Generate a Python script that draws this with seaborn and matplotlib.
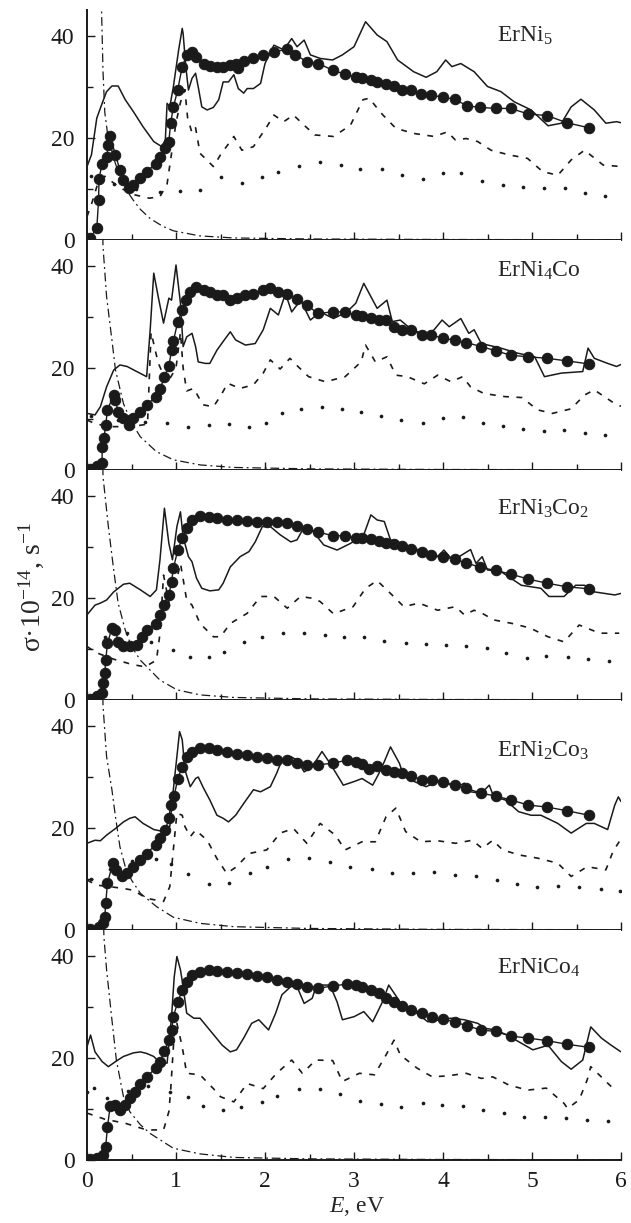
import matplotlib
matplotlib.use("Agg")
import matplotlib.pyplot as plt
import seaborn as sns
import pandas as pd
from matplotlib.ticker import MultipleLocator

# --- data: (E [eV], sigma [1e14 s^-1]) ---
labels = ["ErNi$_5$", "ErNi$_4$Co", "ErNi$_3$Co$_2$", "ErNi$_2$Co$_3$", "ErNiCo$_4$"]
label_y = [38.8, 37.9, 36.4, 33.9, 36.6]

exp_1 = [(0.03,0.3),(0.11,2.3),(0.13,7.8),(0.135,12),(0.17,15),(0.22,16.3),(0.24,18.6),(0.26,20.3),(0.32,16.7),(0.37,13.7),(0.41,11.8),(0.47,10.1),(0.52,10.8),(0.60,12.1),(0.67,13.4),(0.77,15),(0.82,16.3),(0.88,18),(0.92,19.3),(0.94,23),(0.97,26),(1.02,29.5),(1.07,34),(1.12,36.3),(1.18,36.8),(1.23,35.9),(1.31,34.6),(1.38,34.1),(1.46,33.9),(1.53,34),(1.61,34.3),(1.67,34.6),(1.70,33.7),(1.76,35.1),(1.87,35.6),(1.98,36.3),(2.10,36.9),(2.25,37.4),(2.34,36.3),(2.47,35),(2.60,34.6),(2.76,33.3),(2.90,32.5),(3.02,32),(3.09,31.7),(3.19,31.4),(3.26,31),(3.36,30.6),(3.45,30.2),(3.54,29.5),(3.64,29.4),(3.75,28.6),(3.87,28.4),(4.00,28),(4.13,27.6),(4.27,26.3),(4.42,26),(4.59,25.8),(4.76,25.8),(4.96,24.7),(5.17,24.4),(5.39,23),(5.64,22)]
calc_1 = [(0,14.4),(0.05,16.7),(0.11,23.9),(0.17,26.8),(0.22,29.1),(0.28,30.2),(0.35,30.2),(0.43,27.5),(0.52,25.2),(0.63,22.2),(0.75,19.3),(0.84,18.3),(0.88,19.6),(0.90,26.8),(0.93,26.1),(0.97,30),(1.03,37.3),(1.07,41.5),(1.08,40.5),(1.11,34),(1.14,29.4),(1.18,31.7),(1.22,32.7),(1.25,30),(1.29,26.1),(1.35,25.5),(1.42,26),(1.48,27.5),(1.53,31),(1.59,31),(1.65,32.4),(1.70,29.7),(1.76,28.8),(1.80,29.7),(1.87,29.7),(1.95,30.7),(2.00,34.6),(2.10,38.2),(2.21,37.3),(2.30,39.5),(2.36,37.9),(2.44,39.2),(2.51,36.3),(2.62,35.6),(2.76,35.3),(2.87,36.3),(3.00,37.9),(3.13,42.8),(3.26,40.2),(3.37,38.9),(3.49,35.3),(3.67,33),(3.81,31.9),(3.93,33),(4.03,35.3),(4.10,34),(4.20,34.6),(4.35,33),(4.50,30.1),(4.65,29.1),(4.80,27.1),(4.99,25.5),(5.18,22.4),(5.33,22.9),(5.44,26.1),(5.55,27.6),(5.70,25.5),(5.83,22.9),(5.95,23.2),(6.0,23)]
inter_1 = [(0,4.6),(0.05,7),(0.12,11),(0.2,12.5),(0.35,10.5),(0.5,9),(0.7,8.2),(0.82,8.5),(0.9,11),(0.95,17),(1.0,23),(1.05,27),(1.1,29.5),(1.13,24),(1.18,21),(1.22,22),(1.27,17),(1.42,14.4),(1.5,16.7),(1.65,20.3),(1.74,17.6),(1.87,18.3),(2.02,22.2),(2.1,24.5),(2.21,23.2),(2.32,24.5),(2.44,22.5),(2.56,20.6),(2.77,20.3),(2.96,22.5),(3.10,27.5),(3.17,27.8),(3.32,24.6),(3.47,21.9),(3.67,20.9),(3.90,20.3),(4.05,21.2),(4.14,19.6),(4.26,19.9),(4.39,19.3),(4.54,17.6),(4.74,16.7),(4.95,16),(5.12,13.4),(5.29,12.7),(5.44,15.7),(5.59,17.6),(5.80,14.7),(6.0,14.4)]
dots_1 = [(0.05,12.5),(0.3,11),(0.55,10),(0.82,9.5),(1.05,9.7),(1.27,9.8),(1.5,12.3),(1.74,11.1),(1.97,12.3),(2.15,13.4),(2.38,14.6),(2.62,15.2),(2.85,14.7),(3.07,13.9),(3.31,13.9),(3.54,12.7),(3.77,11.9),(4.0,13.1),(4.2,13.1),(4.44,11.6),(4.67,10.8),(4.90,10.3),(5.13,10.1),(5.37,10.1),(5.59,9.2),(5.82,8.6)]
drude_1 = [(0.14,60),(0.165,44),(0.18,33),(0.2,25),(0.23,21),(0.26,19),(0.3,16),(0.37,12.4),(0.45,9.6),(0.52,7.8),(0.6,6),(0.71,4.2),(0.85,2.7),(0.97,1.8),(1.27,0.8),(1.65,0.4),(2.5,0.2),(4,0.1),(6,0.05)]

exp_2 = [(0.03,0.1),(0.11,0.7),(0.17,1.3),(0.17,4.6),(0.19,6.2),(0.21,8.8),(0.23,11.8),(0.30,14.7),(0.32,13.7),(0.35,11.4),(0.41,10.1),(0.47,8.8),(0.52,10.1),(0.60,11.4),(0.67,12.7),(0.77,14.4),(0.82,15.8),(0.87,18.3),(0.92,20.4),(0.95,23.5),(0.97,25.2),(1.02,29.1),(1.07,31.4),(1.11,33.3),(1.16,35),(1.23,35.9),(1.31,35.3),(1.38,35),(1.46,34.3),(1.53,34.3),(1.61,33.3),(1.68,33.7),(1.78,34.3),(1.87,34.6),(1.98,35.3),(2.06,35.6),(2.15,35),(2.25,34.6),(2.36,33.5),(2.47,32.4),(2.59,30.7),(2.76,31),(2.90,31),(3.02,30.4),(3.09,30.2),(3.19,29.9),(3.28,29.5),(3.36,29.4),(3.45,28.1),(3.54,27.5),(3.64,27.5),(3.76,26.5),(3.87,26.5),(4.0,25.8),(4.13,25.5),(4.26,25),(4.43,24.2),(4.59,23.4),(4.76,22.5),(4.96,22.2),(5.17,21.9),(5.39,21.4),(5.64,20.8)]
calc_2 = [(0,11.1),(0.09,10.8),(0.15,12.4),(0.22,16.3),(0.30,19.6),(0.37,20.6),(0.45,20.3),(0.56,19.3),(0.67,18.3),(0.71,27.5),(0.75,38.6),(0.80,34),(0.86,28.8),(0.92,33.7),(0.95,33.3),(1.0,40.2),(1.05,32.7),(1.08,24.2),(1.12,26.1),(1.18,26.8),(1.22,24.2),(1.25,21.2),(1.33,20.9),(1.38,20.9),(1.46,23.5),(1.53,25.2),(1.61,27.1),(1.67,25.5),(1.78,24.5),(1.89,24.8),(1.98,27.5),(2.06,31.7),(2.15,30.4),(2.23,34.6),(2.30,31),(2.40,33.3),(2.51,29.4),(2.62,31),(2.77,29.7),(2.92,31),(3.02,32.7),(3.11,36.6),(3.26,31.7),(3.37,33.3),(3.43,29.1),(3.52,29.4),(3.65,27.5),(3.81,26.5),(3.90,27.5),(3.99,29.4),(4.07,28.1),(4.20,29.7),(4.29,26.8),(4.35,27.5),(4.43,24.8),(4.65,23.9),(4.84,22.9),(5.03,22.2),(5.14,18.3),(5.33,19),(5.57,19.3),(5.63,23.9),(5.70,21.9),(5.85,20.9),(5.95,20.3),(6.0,20.7)]
inter_2 = [(0,9.8),(0.1,9),(0.3,8.5),(0.5,8.5),(0.68,9),(0.72,27),(0.8,21),(0.9,17),(1.0,20),(1.05,27),(1.08,20),(1.12,15.5),(1.2,16),(1.3,12.8),(1.42,12.4),(1.5,14.5),(1.58,17),(1.72,16),(1.87,16.7),(1.98,19),(2.06,21.6),(2.17,19.8),(2.28,21.9),(2.37,20.3),(2.49,18.3),(2.68,17.3),(2.90,18.3),(3.08,21.2),(3.13,24.5),(3.24,21.2),(3.37,22.2),(3.47,18.6),(3.60,18.3),(3.79,16.9),(3.94,18.6),(4.09,17.3),(4.22,18.3),(4.31,16.3),(4.46,15),(4.69,14.4),(4.89,14.2),(5.06,11.8),(5.23,11.1),(5.44,12),(5.59,14.7),(5.70,15.7),(5.94,12.9),(6.0,12.5)]
dots_2 = [(0.05,10.5),(0.35,9.8),(0.65,9.4),(0.9,9.2),(1.13,8.5),(1.37,8.8),(1.6,9),(1.82,8.4),(2.01,9.3),(2.19,11.1),(2.4,11.9),(2.64,12.4),(2.87,12),(3.08,11.3),(3.30,10.5),(3.53,9.9),(3.77,9.3),(4.0,10.1),(4.23,10.3),(4.45,9.3),(4.67,8.7),(4.90,8),(5.14,7.6),(5.36,7.8),(5.59,7.2),(5.82,6.9)]
drude_2 = [(0.16,60),(0.18,43.8),(0.22,34),(0.28,25.5),(0.32,19.6),(0.41,13),(0.5,9.3),(0.6,6.5),(0.78,3.6),(0.97,2),(1.27,1),(1.65,0.5),(2.5,0.22),(4,0.1),(6,0.05)]

exp_3 = [(0.03,0.1),(0.11,0.7),(0.17,1.3),(0.18,3.3),(0.20,5.2),(0.21,7.8),(0.23,11.1),(0.28,14.1),(0.32,13.7),(0.35,11.4),(0.41,10.5),(0.48,10.5),(0.56,10.8),(0.62,12.4),(0.67,13.7),(0.77,15),(0.82,16.7),(0.86,18.6),(0.92,20.6),(0.95,23.2),(0.97,25.8),(1.02,29.4),(1.07,31.7),(1.12,33.7),(1.18,35.3),(1.27,36.1),(1.37,35.9),(1.46,35.6),(1.57,35.3),(1.68,35.3),(1.80,35.1),(1.91,35),(2.02,35),(2.13,35),(2.25,34.8),(2.36,34.1),(2.47,33.5),(2.59,33),(2.76,32.2),(2.90,32.2),(3.02,31.7),(3.09,31.7),(3.19,31.5),(3.28,31.2),(3.36,30.7),(3.45,30.6),(3.54,30.2),(3.64,29.7),(3.76,29.1),(3.87,28.4),(4.0,28.1),(4.13,27.6),(4.26,26.9),(4.42,26),(4.59,25.4),(4.76,24.7),(4.96,23.7),(5.17,22.9),(5.39,22.2),(5.64,21.8)]
calc_3 = [(0,16.7),(0.09,18.6),(0.15,19),(0.22,19.6),(0.30,21.2),(0.41,22.7),(0.48,22.9),(0.60,21.6),(0.71,20.3),(0.78,21.6),(0.82,27.5),(0.87,37.6),(0.92,30.7),(0.96,27.5),(1.01,34),(1.05,36.9),(1.08,32),(1.14,28.1),(1.18,27.1),(1.23,23.9),(1.29,21.9),(1.38,21.4),(1.48,21.6),(1.53,22.9),(1.61,26.1),(1.72,28.1),(1.82,29.1),(1.89,31),(1.97,34),(2.06,34),(2.17,32.4),(2.29,31),(2.36,31.4),(2.42,33.3),(2.51,33.7),(2.66,30.4),(2.81,29.4),(2.96,30.7),(3.11,32.4),(3.19,36.3),(3.26,35.3),(3.34,35),(3.41,31.4),(3.53,30.7),(3.68,29.7),(3.83,28.8),(3.94,28.1),(4.01,29.4),(4.09,27.8),(4.18,28.1),(4.31,29.5),(4.37,26.8),(4.44,28.1),(4.50,25.5),(4.65,25.2),(4.88,22.5),(5.10,21.9),(5.19,20.3),(5.36,20.3),(5.49,22.5),(5.59,22.5),(5.70,21.2),(5.93,20.6),(6.0,20.9)]
inter_3 = [(0,10.5),(0.1,9.3),(0.3,8),(0.5,7),(0.65,6.5),(0.78,7.8),(0.82,13),(0.86,24.5),(0.93,18.3),(0.99,22.2),(1.05,26.8),(1.12,19.6),(1.18,18.6),(1.27,15),(1.42,12.4),(1.5,12.4),(1.61,15),(1.80,17),(1.95,20.3),(2.1,20.3),(2.25,18),(2.40,20.3),(2.55,19.9),(2.62,19.3),(2.77,16.9),(2.99,18.3),(3.13,21.9),(3.26,23.4),(3.41,20.9),(3.56,18.3),(3.73,19),(3.94,17.6),(4.14,18.3),(4.24,16.7),(4.35,17.6),(4.44,17),(4.57,15.7),(4.78,15),(4.98,14.1),(5.18,12.4),(5.36,11.4),(5.53,14.7),(5.76,13.1),(5.98,13.1)]
dots_3 = [(0.2,12.3),(0.45,13.1),(0.72,11.3),(0.97,9.8),(1.16,8.4),(1.37,8.4),(1.54,9.5),(1.76,11.4),(1.97,12.3),(2.2,13.2),(2.44,13.2),(2.67,12.7),(2.89,12.4),(3.11,12.3),(3.34,11.6),(3.58,11.1),(3.81,10.9),(4.03,10.7),(4.26,10.6),(4.49,10.1),(4.71,9.2),(4.94,8.3),(5.16,8.6),(5.40,8.4),(5.63,8),(5.86,7.7)]
drude_3 = [(0.16,60),(0.18,43.8),(0.24,34),(0.30,25.5),(0.35,19),(0.43,13.7),(0.5,10.5),(0.6,7.8),(0.82,3.9),(1.01,2),(1.27,1),(1.65,0.5),(2.5,0.22),(4,0.1),(6,0.05)]

exp_4 = [(0.03,0.1),(0.13,0.5),(0.18,1.3),(0.20,2.6),(0.21,5.2),(0.23,9.2),(0.29,13.1),(0.33,11.8),(0.39,10.5),(0.45,11.1),(0.52,12.4),(0.60,13.7),(0.67,15),(0.77,16.7),(0.82,18),(0.88,19.6),(0.92,21.9),(0.94,24.5),(0.98,26.3),(1.02,29.7),(1.07,32),(1.12,34),(1.18,35),(1.27,35.6),(1.37,35.6),(1.46,35.3),(1.57,35),(1.68,34.6),(1.80,34.3),(1.91,34),(2.02,33.7),(2.13,33.3),(2.25,33.3),(2.36,32.7),(2.47,32.4),(2.60,32.4),(2.76,32.7),(2.92,33.3),(3.02,33),(3.09,32.5),(3.17,31.5),(3.26,32.2),(3.36,31.4),(3.45,31),(3.54,30.7),(3.64,30.2),(3.76,29.5),(3.88,29.4),(4.0,29.1),(4.13,28.4),(4.26,27.8),(4.43,26.8),(4.59,26.3),(4.76,25.5),(4.96,24.5),(5.17,24.1),(5.39,23.4),(5.64,22.5)]
calc_4 = [(0,17),(0.09,17.6),(0.15,17.5),(0.22,18.6),(0.32,19.9),(0.41,21.2),(0.48,21.9),(0.54,22.2),(0.63,20.9),(0.75,19.7),(0.86,19.3),(0.93,20.3),(0.97,27.5),(1.01,34),(1.04,38.9),(1.07,37.3),(1.10,31.4),(1.16,28.1),(1.22,29.7),(1.25,30),(1.31,27.8),(1.38,25.5),(1.46,22.5),(1.53,21.9),(1.59,21.2),(1.67,22.5),(1.76,24.8),(1.87,27.5),(1.95,27.1),(2.06,28.1),(2.13,30.7),(2.19,33.3),(2.29,34),(2.36,33.3),(2.44,31),(2.53,32),(2.64,35),(2.73,32.7),(2.88,28.4),(3.00,29.1),(3.09,29.7),(3.21,28.4),(3.28,30.7),(3.34,33),(3.41,35.9),(3.51,32.7),(3.56,30.1),(3.68,29.1),(3.81,28.1),(3.90,28.8),(4.01,29.4),(4.13,27.8),(4.24,28.8),(4.31,27.1),(4.43,26.8),(4.52,28.4),(4.57,26.1),(4.70,25.5),(4.85,23.2),(4.99,22.5),(5.10,22.5),(5.29,20.9),(5.44,19),(5.61,20.9),(5.70,20.9),(5.85,19.7),(5.93,24.5),(5.97,26.1),(6.0,25.2)]
inter_4 = [(0,9.8),(0.11,8.8),(0.39,8.2),(0.52,7.8),(0.67,6.2),(0.86,5.6),(0.93,8.5),(0.97,15.7),(1.01,22.9),(1.07,22.5),(1.10,20.3),(1.16,18.3),(1.22,19.6),(1.35,17.6),(1.46,14),(1.57,11.1),(1.68,12.4),(1.82,15),(2.02,15.7),(2.17,19),(2.32,19.9),(2.47,17),(2.62,20.9),(2.79,18.6),(2.90,15.7),(3.09,17.3),(3.24,17.3),(3.36,22.2),(3.47,23.9),(3.58,19.3),(3.75,17.3),(3.94,17.5),(4.14,17),(4.33,17.6),(4.44,16),(4.56,17.6),(4.67,15.7),(4.86,14.7),(5.06,14.1),(5.29,13.1),(5.44,10.5),(5.62,12.4),(5.83,11.8),(5.91,15.4),(5.99,17.6)]
dots_4 = [(0.05,10),(0.26,12),(0.5,13.5),(0.77,14),(0.94,12.9),(1.13,11),(1.37,9),(1.59,9.3),(1.83,11.1),(2.02,12.4),(2.26,14),(2.49,14.2),(2.73,13.4),(2.96,12.4),(3.20,12),(3.43,11.1),(3.66,11.2),(3.90,11.4),(4.14,10.8),(4.37,10.6),(4.61,9.8),(4.83,9),(5.06,8.5),(5.29,8.7),(5.53,8.4),(5.77,8),(5.99,7.7)]
drude_4 = [(0.16,60),(0.18,44),(0.22,34),(0.28,27.5),(0.32,22.2),(0.37,16.3),(0.43,12.4),(0.5,9.8),(0.6,7.2),(0.78,4.6),(0.97,2.5),(1.27,1.3),(1.65,0.65),(2.5,0.3),(4,0.12),(6,0.05)]

exp_5 = [(0.03,0.1),(0.11,0.3),(0.18,1),(0.21,2.6),(0.23,6.5),(0.26,10.5),(0.32,10.8),(0.37,9.8),(0.43,10.8),(0.48,12.1),(0.54,13.4),(0.60,15),(0.67,16.3),(0.77,18),(0.82,19.3),(0.87,21.4),(0.92,23.5),(0.95,25.5),(0.97,28.1),(1.02,31),(1.07,33.3),(1.12,35),(1.18,36.3),(1.27,36.9),(1.37,37.3),(1.46,37.1),(1.57,36.9),(1.68,36.7),(1.80,36.4),(1.91,36.1),(2.02,35.8),(2.13,35.3),(2.25,35),(2.36,34.6),(2.47,34),(2.60,33.7),(2.76,34.1),(2.92,34.5),(3.02,34.3),(3.09,34),(3.19,33.3),(3.28,32.7),(3.36,31.7),(3.45,31),(3.54,30.2),(3.64,29.5),(3.76,28.9),(3.88,28),(4.0,27.6),(4.13,27.1),(4.27,26.3),(4.43,25.5),(4.59,25.2),(4.76,24.3),(4.96,23.9),(5.17,23.4),(5.39,22.7),(5.64,22.1)]
calc_5 = [(0,22.2),(0.04,24.5),(0.09,21.2),(0.17,19.3),(0.24,18.3),(0.32,19.3),(0.41,20.3),(0.52,21),(0.60,21.2),(0.67,20.9),(0.75,20.3),(0.82,19),(0.90,19),(0.95,28.1),(0.98,35.9),(1.01,39.9),(1.05,37.3),(1.08,34),(1.12,28.8),(1.20,27.8),(1.27,27.8),(1.35,26.1),(1.44,24.2),(1.52,22.5),(1.61,21.2),(1.68,21.6),(1.76,23.9),(1.85,26.8),(1.93,27.5),(2.04,25.5),(2.12,28.8),(2.19,32.4),(2.29,34),(2.36,34),(2.44,30.7),(2.53,31.7),(2.58,34.3),(2.73,34.3),(2.81,31),(2.87,27.5),(3.00,28.1),(3.11,29.1),(3.21,27.1),(3.32,31),(3.39,34.3),(3.49,31.7),(3.54,30.1),(3.68,29.1),(3.83,27.1),(3.97,27.5),(4.09,27.8),(4.24,27.5),(4.39,26.8),(4.48,25.8),(4.59,25.5),(4.72,24.5),(4.88,22.9),(5.01,21.6),(5.18,22.5),(5.33,19.3),(5.44,17.8),(5.57,19.6),(5.66,26.1),(5.78,23.9),(5.89,22.5),(6.0,21.2)]
inter_5 = [(0,9.2),(0.2,8),(0.43,7.2),(0.67,5.9),(0.86,5.9),(0.92,9.5),(0.94,13.7),(0.98,24.8),(1.01,26.8),(1.07,22.2),(1.12,17),(1.27,16.7),(1.42,14),(1.5,12.4),(1.65,11.4),(1.80,15),(1.98,14),(2.13,17),(2.30,19.6),(2.42,17),(2.57,19.6),(2.76,19.5),(2.87,15.4),(3.06,17),(3.23,16.7),(3.36,20.6),(3.45,23.5),(3.52,20.6),(3.71,18),(3.88,16.3),(4.05,16.5),(4.26,17),(4.43,16),(4.56,16.3),(4.74,14.7),(4.95,13.7),(5.16,14.1),(5.36,11.1),(5.40,10.1),(5.53,11.8),(5.62,15.7),(5.66,18.3),(5.89,14.4)]
dots_5 = [(0,13.4),(0.08,14.2),(0.23,12.1),(0.46,13.5),(0.69,14.6),(0.93,13.4),(1.13,12.3),(1.3,10.6),(1.53,9.8),(1.73,10.3),(1.97,11.3),(2.14,12.6),(2.38,13.9),(2.62,13.9),(2.84,12.9),(3.07,11.6),(3.30,10.9),(3.53,10.3),(3.77,11.1),(3.99,10.8),(4.22,10.5),(4.45,9.8),(4.68,9.3),(4.91,8.4),(5.15,8.4),(5.38,8.2),(5.62,7.8),(5.85,7.7)]
drude_5 = [(0.17,60),(0.19,43.8),(0.22,37.3),(0.28,27.5),(0.33,19.6),(0.41,12.4),(0.48,9.5),(0.6,6.9),(0.71,5.2),(0.97,2.3),(1.27,1.2),(1.65,0.5),(2.5,0.22),(4,0.1),(6,0.05)]

panels = [
    (exp_1, calc_1, inter_1, dots_1, drude_1),
    (exp_2, calc_2, inter_2, dots_2, drude_2),
    (exp_3, calc_3, inter_3, dots_3, drude_3),
    (exp_4, calc_4, inter_4, dots_4, drude_4),
    (exp_5, calc_5, inter_5, dots_5, drude_5),
]

sns.set_theme(style="ticks")
plt.rcParams["font.family"] = ["Liberation Serif", "DejaVu Serif"]
plt.rcParams["mathtext.fontset"] = "custom"
plt.rcParams["mathtext.rm"] = "Liberation Serif"
plt.rcParams["mathtext.it"] = "Liberation Serif:italic"
plt.rcParams["axes.unicode_minus"] = True


def frame(pts):
    return pd.DataFrame(pts, columns=["E", "s"])


fig = plt.figure(figsize=(6.31, 12.23), dpi=100)
W, H = 631.0, 1223.0
left, right = 87 / W, 621 / W
ph = 230 / H
for i, (exp, calc, inter, dots, drude) in enumerate(panels):
    bottom = (H - 1160 + (4 - i) * 230) / H
    ax = fig.add_axes([left, bottom, right - left, ph])
    sns.lineplot(data=frame(calc), x="E", y="s", ax=ax, sort=False, estimator=None,
                 color="k", lw=1.1)
    sns.lineplot(data=frame(inter), x="E", y="s", ax=ax, sort=False, estimator=None,
                 color="k", lw=1.2, linestyle=(0, (3.5, 4.5)))
    sns.scatterplot(data=frame(dots), x="E", y="s", ax=ax, color="k", s=7,
                    linewidth=0, zorder=3)
    sns.lineplot(data=frame(drude), x="E", y="s", ax=ax, sort=False, estimator=None,
                 color="k", lw=0.9, linestyle=(0, (7, 3, 1.5, 3)))
    sns.lineplot(data=frame(exp), x="E", y="s", ax=ax, sort=False, estimator=None,
                 color="k", lw=1.0, marker="o", markersize=7.5,
                 markeredgecolor="k", markerfacecolor="#1a1a1a", zorder=4)
    ax.text(4.61, label_y[i], labels[i], fontsize=17, ha="left", va="baseline")

    ax.set_xlim(0, 6)
    ax.set_ylim(0, 45.1)
    ax.set_xlabel("")
    ax.set_ylabel("")
    for side in ["top", "right"]:
        ax.spines[side].set_visible(False)
    for side in ["left", "bottom"]:
        ax.spines[side].set_linewidth(1.4)
        ax.spines[side].set_color("k")
    ax.xaxis.set_major_locator(MultipleLocator(1))
    ax.xaxis.set_minor_locator(MultipleLocator(0.5))
    ax.yaxis.set_major_locator(MultipleLocator(20))
    ax.yaxis.set_minor_locator(MultipleLocator(10))
    ax.tick_params(which="both", direction="in", color="k", width=1.0,
                   labelsize=17, labelcolor="k")
    ax.tick_params(which="major", length=6)
    ax.tick_params(which="minor", length=4)
    ax.tick_params(axis="y", pad=9)
    ax.tick_params(axis="x", pad=8)
    if i < 4:
        ax.tick_params(axis="x", labelbottom=False)

fig.text(0.05, 1 - 587 / H, "σ·10$^{-14}$, s$^{-1}$", rotation=90,
         fontsize=20, ha="center", va="center")
fig.text(0.565, 1 - 1206 / H, "$E$, eV", fontsize=17, ha="center", va="center")

fig.savefig("out.png", dpi=100, facecolor="white")
